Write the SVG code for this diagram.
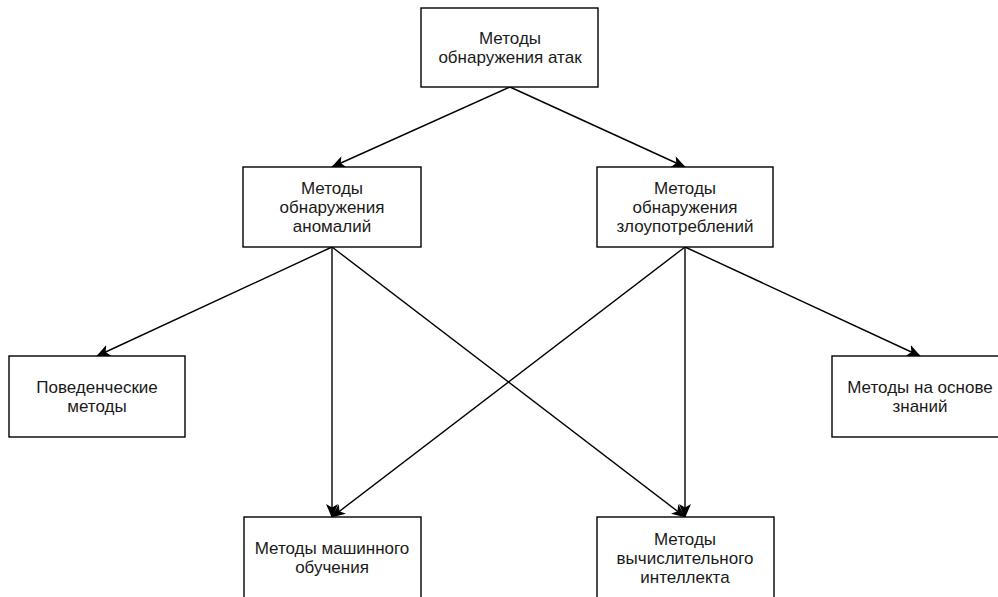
<svg xmlns="http://www.w3.org/2000/svg" width="998" height="597" viewBox="0 0 998 597">
  <style>
    .box { fill: #ffffff; stroke: #000000; stroke-width: 1.4; }
    .lbl { font-family: "Liberation Sans", Arial, sans-serif; font-size: 17px; fill: #1a1a1a; text-anchor: middle; }
    .edge { fill: none; stroke: #000000; stroke-width: 1.4; marker-end: url(#arrow); }
  </style>
  <defs>
    <marker id="arrow" viewBox="0 0 14 12" refX="13" refY="6" markerWidth="14" markerHeight="12" markerUnits="userSpaceOnUse" orient="auto">
      <path d="M0,0 L14,6 L0,12 L3.5,6 Z" fill="#000000"/>
    </marker>
  </defs>
  <rect width="998" height="597" fill="#ffffff"/>

  <g id="connectors">
    <line class="edge" x1="510" y1="87" x2="332" y2="167"/>
    <line class="edge" x1="510" y1="87" x2="685" y2="167"/>
    <line class="edge" x1="332" y1="247" x2="97" y2="356"/>
    <line class="edge" x1="332" y1="247" x2="332" y2="517"/>
    <line class="edge" x1="332" y1="247" x2="685" y2="517"/>
    <line class="edge" x1="685" y1="247" x2="332" y2="517"/>
    <line class="edge" x1="685" y1="247" x2="685" y2="517"/>
    <line class="edge" x1="685" y1="247" x2="920" y2="356"/>
  </g>

  <g id="attack-detection">
    <rect class="box" x="421" y="8" width="177" height="79"/>
    <text class="lbl" x="510" y="44">Методы</text>
    <text class="lbl" x="510" y="63">обнаружения атак</text>
  </g>

  <g id="anomaly-detection">
    <rect class="box" x="243" y="167" width="178" height="80"/>
    <text class="lbl" x="332" y="194">Методы</text>
    <text class="lbl" x="332" y="213">обнаружения</text>
    <text class="lbl" x="332" y="232">аномалий</text>
  </g>

  <g id="misuse-detection">
    <rect class="box" x="597" y="167" width="176" height="80"/>
    <text class="lbl" x="685" y="194">Методы</text>
    <text class="lbl" x="685" y="213">обнаружения</text>
    <text class="lbl" x="685" y="232">злоупотреблений</text>
  </g>

  <g id="behavioral">
    <rect class="box" x="9" y="356" width="176" height="81"/>
    <text class="lbl" x="97" y="393">Поведенческие</text>
    <text class="lbl" x="97" y="412">методы</text>
  </g>

  <g id="knowledge-based">
    <rect class="box" x="832" y="356" width="177" height="81"/>
    <text class="lbl" x="920" y="393">Методы на основе</text>
    <text class="lbl" x="920" y="412">знаний</text>
  </g>

  <g id="machine-learning">
    <rect class="box" x="244" y="517" width="177" height="81"/>
    <text class="lbl" x="332" y="554">Методы машинного</text>
    <text class="lbl" x="332" y="573">обучения</text>
  </g>

  <g id="computational-intelligence">
    <rect class="box" x="597" y="517" width="177" height="81"/>
    <text class="lbl" x="685" y="545">Методы</text>
    <text class="lbl" x="685" y="564">вычислительного</text>
    <text class="lbl" x="685" y="583">интеллекта</text>
  </g>
</svg>
